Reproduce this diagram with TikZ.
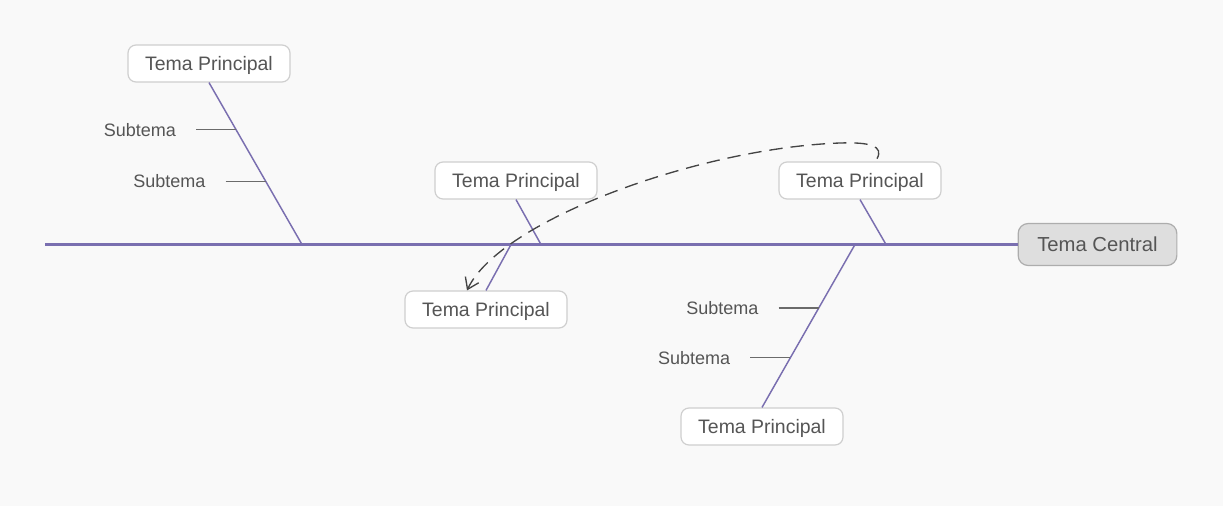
\documentclass[tikz,border=0pt]{standalone}
\usepackage{fontspec}
\setmainfont{Liberation Sans}
\usepackage{xcolor}
\definecolor{bgpaper}{HTML}{F9F9F9}
\definecolor{bonepurple}{HTML}{7A6FB0}
\definecolor{ribgray}{HTML}{6B6B6B}
\definecolor{txtgray}{HTML}{555555}
\definecolor{boxline}{HTML}{CFCFCF}
\definecolor{centfill}{HTML}{DEDEDE}
\definecolor{centline}{HTML}{ADADAD}
\definecolor{dashgray}{HTML}{444444}
\usetikzlibrary{arrows.meta, positioning, calc}
\tikzset{
  mainbox/.style={rectangle, rounded corners=6pt, draw=boxline, line width=0.9pt, fill=white,
                  text=txtgray, align=center, inner sep=0pt, text depth=0pt,
                  minimum width=121.5pt, minimum height=27.75pt, font=\fontsize{14.6}{17}\selectfont},
  centbox/.style={rectangle, rounded corners=7.5pt, draw=centline, line width=0.9pt, fill=centfill,
                  text=txtgray, align=center, inner sep=0pt, text depth=0pt,
                  minimum width=119pt, minimum height=31.5pt, font=\fontsize{15.2}{18}\selectfont},
  sublbl/.style={inner xsep=15pt, inner ysep=2pt, text=txtgray, font=\fontsize{13.5}{16}\selectfont},
  spine/.style={line width=2.2pt, color=bonepurple},
  bone/.style={line width=1.1pt, color=bonepurple},
  rib/.style={line width=0.8pt, color=ribgray},
  reflink/.style={dash pattern=on 10pt off 6pt, line width=1pt, color=dashgray,
                  -{Straight Barb[length=8pt, width=11pt]}},
}

\begin{document}
\begin{tikzpicture}[x=0.75pt, y=-0.75pt]
  \fill[bgpaper] (0,0) rectangle (1223,506);
  \useasboundingbox (0,0) rectangle (1223,506);
  % head and main topics
  \node[centbox] (tc) at (1097.5,244.5) {Tema Central};
  \node[mainbox] (t1) at (209,63.5)  {Tema Principal};
  \node[mainbox] (t2) at (516,180.5) {Tema Principal};
  \node[mainbox] (t3) at (860,180.5) {Tema Principal};
  \node[mainbox] (t4) at (486,309.5) {Tema Principal};
  \node[mainbox] (t5) at (762,426.5) {Tema Principal};
  % joints on the spine
  \coordinate (tail) at (45,244.5);
  \coordinate (j1) at (302,244.5);
  \coordinate (j2) at (541,244.5);
  \coordinate (j3) at (886,244.5);
  \coordinate (j4) at (511,244.5);
  \coordinate (j5) at (855,244.5);
  \draw[spine] (tail) -- (tc.west);
  \draw[bone] (t1.south) -- (j1);
  \draw[bone] (t2.south) -- (j2);
  \draw[bone] (t3.south) -- (j3);
  \draw[bone] (t4.north) -- (j4);
  \draw[bone] (t5.north) -- (j5);
  % subtopics
  \coordinate (r11) at ($(j1)!0.708!(t1.south)$);
  \coordinate (r12) at ($(j1)!0.391!(t1.south)$);
  \coordinate (r51) at ($(j5)!0.39!(t5.north)$);
  \coordinate (r52) at ($(j5)!0.695!(t5.north)$);
  \node[sublbl, left=30pt of r11] (s11) {Subtema};
  \node[sublbl, left=30pt of r12] (s12) {Subtema};
  \node[sublbl, left=30pt of r51] (s51) {Subtema};
  \node[sublbl, left=30pt of r52] (s52) {Subtema};
  \draw[rib] (s11) -- (r11);
  \draw[rib] (s12) -- (r12);
  \draw[rib] (s51) -- (r51);
  \draw[rib] (s52) -- (r52);
  % link between topics
  \draw[reflink] ([xshift=12.75pt, yshift=2pt]t3.north) .. controls (884,146) and (870,142) .. (840,143)
    .. controls (700,148) and (500,220) .. ([xshift=-14.25pt]t4.north);
\end{tikzpicture}
\end{document}
